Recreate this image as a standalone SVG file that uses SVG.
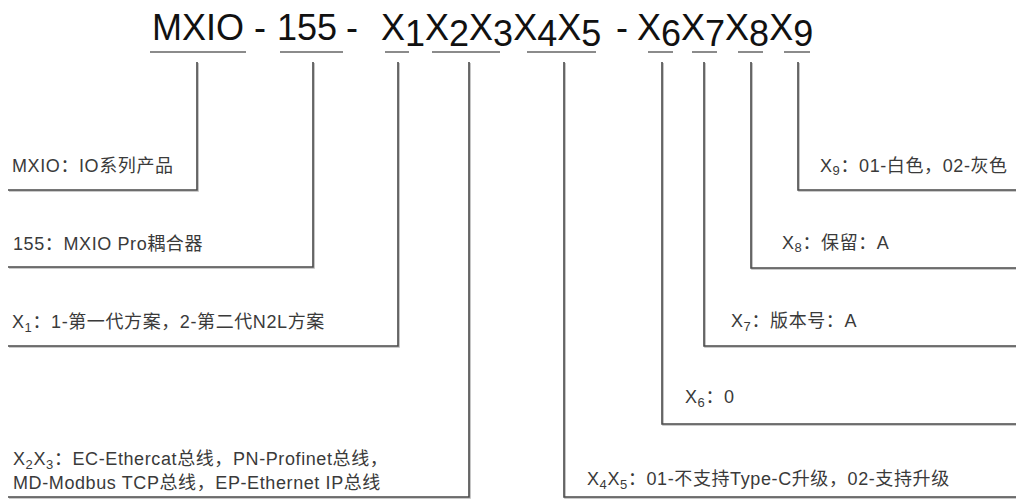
<svg xmlns="http://www.w3.org/2000/svg" width="1016" height="502" viewBox="0 0 1016 502">
<style>
.title{font-family:"Liberation Sans",Arial,sans-serif;font-size:36px;fill:#111}
.ul{stroke:#666;stroke-width:1.5;fill:none}
.lbl{font-family:"Liberation Sans","Noto Sans CJK SC",sans-serif;font-size:18px;letter-spacing:0.6px;fill:#3a3a3a}
.sub{font-size:13px}
.con{stroke:#4a4a4a;stroke-width:1.6;fill:none;filter:url(#sh)}
</style>
<defs>
<filter id="sh" x="-5%" y="-5%" width="110%" height="110%">
<feDropShadow dx="1" dy="1" stdDeviation="0.7" flood-color="#888" flood-opacity="0.6"/>
</filter>
</defs>
<rect width="1016" height="502" fill="#fff"/>
<g id="title">
<text class="title" y="40"><tspan x="152">MXIO</tspan><tspan x="254">-</tspan><tspan x="277">155</tspan><tspan x="346">-</tspan><tspan x="381">X</tspan><tspan dy="6">1</tspan><tspan dy="-6">X</tspan><tspan dy="6">2</tspan><tspan dy="-6">X</tspan><tspan dy="6">3</tspan><tspan dy="-6">X</tspan><tspan dy="6">4</tspan><tspan dy="-6">X</tspan><tspan dy="6">5</tspan><tspan x="616" dy="-6">-</tspan><tspan x="637">X</tspan><tspan dy="6">6</tspan><tspan dy="-6">X</tspan><tspan dy="6">7</tspan><tspan dy="-6">X</tspan><tspan dy="6">8</tspan><tspan dy="-6">X</tspan><tspan dy="6">9</tspan></text>
<path class="ul" d="M150 52H246M280 52H343M385 52H409M432 52H500M527 52H596M648 52H673M692 52H717M738 52H763M784 52H810"/>
</g>
<g id="connectors">
<path class="con" d="M197 62V190H8"/>
<path class="con" d="M313 62V267H8"/>
<path class="con" d="M398 62V346H8"/>
<path class="con" d="M469 62V497H8"/>
<path class="con" d="M564 62V497H1016"/>
<path class="con" d="M662 62V424H1016"/>
<path class="con" d="M704 62V346H1016"/>
<path class="con" d="M751 62V268H1016"/>
<path class="con" d="M798 62V190H1016"/>
</g>
<g id="node-mxio"><text class="lbl" x="12" y="172">MXIO：IO系列产品</text></g>
<g id="node-155"><text class="lbl" x="13" y="250">155：MXIO Pro耦合器</text></g>
<g id="node-x1"><text class="lbl" x="12" y="328">X<tspan class="sub" dy="4">1</tspan><tspan dy="-4">：1-第一代方案，2-第二代N2L方案</tspan></text></g>
<g id="node-x2x3"><text class="lbl" x="13" y="465">X<tspan class="sub" dy="4">2</tspan><tspan dy="-4">X</tspan><tspan class="sub" dy="4">3</tspan><tspan dy="-4">：EC-Ethercat总线，PN-Profinet总线，</tspan><tspan x="13" y="489">MD-Modbus TCP总线，EP-Ethernet IP总线</tspan></text></g>
<g id="node-x4x5"><text class="lbl" x="587" y="485">X<tspan class="sub" dy="4">4</tspan><tspan dy="-4">X</tspan><tspan class="sub" dy="4">5</tspan><tspan dy="-4">：01-不支持Type-C升级，02-支持升级</tspan></text></g>
<g id="node-x6"><text class="lbl" x="685" y="403">X<tspan class="sub" dy="4">6</tspan><tspan dy="-4">：0</tspan></text></g>
<g id="node-x7"><text class="lbl" x="731" y="327">X<tspan class="sub" dy="4">7</tspan><tspan dy="-4">：版本号：A</tspan></text></g>
<g id="node-x8"><text class="lbl" x="782" y="249">X<tspan class="sub" dy="3">8</tspan><tspan dy="-3">：保留：A</tspan></text></g>
<g id="node-x9"><text class="lbl" x="820" y="172">X<tspan class="sub" dy="3">9</tspan><tspan dy="-3">：01-白色，02-灰色</tspan></text></g>
</svg>
